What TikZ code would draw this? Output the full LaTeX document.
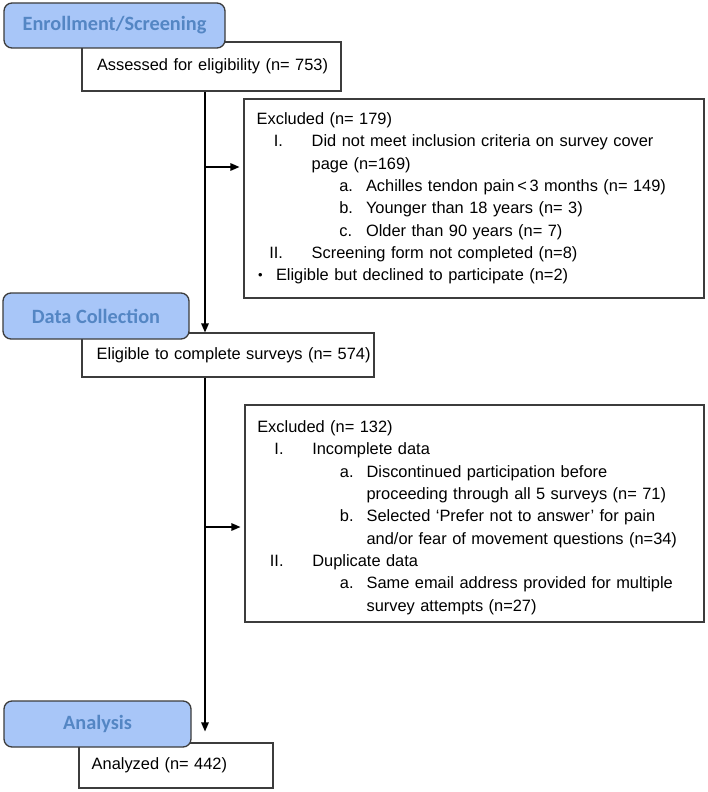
\documentclass[tikz,border=0pt]{standalone}
\usepackage{fontspec}
\setmainfont{Liberation Sans}
\newfontfamily\pillfont{Carlito}
\usetikzlibrary{arrows.meta}

\definecolor{pillfill}{RGB}{168,198,248}
\definecolor{pilltext}{RGB}{84,134,196}
\definecolor{boxline}{RGB}{60,60,60}

\newcommand{\rnum}[1]{\makebox[26.3pt][r]{#1}\hspace{28.7pt}}
\newcommand{\lett}[1]{\hspace*{82.6pt}\makebox[26.7pt][l]{#1}}
\newcommand{\indI}{\hspace*{55pt}}
\newcommand{\indA}{\hspace*{109.3pt}}

\tikzset{
  pill/.style={draw=boxline, line width=1.3pt, fill=pillfill, rounded corners=8pt,
    text=pilltext, font=\pillfont\bfseries\fontsize{20.3}{24}\selectfont, inner sep=0pt},
  flowbox/.style={draw=boxline, line width=1.1pt, fill=white, align=left,
    font=\fontsize{16.4}{22.3}\selectfont, inner ysep=0pt},
  flow/.style={line width=1.3pt, -{Triangle[length=9pt,width=7.5pt]}}
}

\begin{document}
\begin{tikzpicture}[x=1pt,y=-1pt]
\useasboundingbox (0,0) rectangle (708,792);

\node[flowbox, text width=229pt, inner xsep=15pt, minimum height=49pt] (assess) at (211.5,66.5) {\mbox{Assessed for eligibility (n= 753)}};
\node[flowbox, text width=434.6pt, inner xsep=12.7pt, minimum height=199pt] (excl1) at (474,198.5) {Excluded (n= 179)\\
\rnum{I.}Did not meet inclusion criteria on survey cover\\
\indI page (n=169)\\
\lett{a.}Achilles tendon pain\,<\,3 months (n= 149)\\
\lett{b.}Younger than 18 years (n= 3)\\
\lett{c.}Older than 90 years (n= 7)\\
\rnum{II.}Screening form not completed (n=8)\\
\hspace*{1.5pt}\makebox[17.8pt][l]{\raisebox{1pt}{\fontsize{13}{13}\selectfont •}}Eligible but declined to participate (n=2)};
\node[flowbox, text width=262.6pt, inner xsep=14.7pt, minimum height=44pt] (elig) at (228,355) {\mbox{Eligible to complete surveys (n= 574)}};
\node[flowbox, text width=434.4pt, inner xsep=12.3pt, minimum height=217pt] (excl2) at (474.5,513.5) {\rule{0pt}{20pt}Excluded (n= 132)\\
\rnum{I.}Incomplete data\\
\lett{a.}Discontinued participation before\\
\indA proceeding through all 5 surveys (n= 71)\\
\lett{b.}Selected ‘Prefer not to answer’ for pain\\
\indA and/or fear of movement questions (n=34)\\
\rnum{II.}Duplicate data\\
\lett{a.}Same email address provided for multiple\\
\indA survey attempts (n=27)};
\node[flowbox, text width=168.6pt, inner xsep=12.7pt, minimum height=45pt] (analyzed) at (176,765.5) {\mbox{Analyzed (n= 442)}};

% stage labels
\node[pill, minimum width=221pt, minimum height=45pt] (enroll) at (114.5,25.5) {Enrollment/Screening};
\node[pill, minimum width=186pt, minimum height=46pt] (collect) at (96,316) {Data Collection};
\node[pill, minimum width=187pt, minimum height=46pt] (analysis) at (97.5,724) {Analysis};

% connectors
\coordinate (trunk) at (205,0);
\coordinate (fork1) at (205,167);
\coordinate (fork2) at (205,527);
\draw[flow] (assess.south -| trunk) -- (elig.north -| trunk);
\draw[flow, shorten >=4pt] (fork1) -- (fork1 -| excl1.west);
\draw[flow, shorten >=11pt] (elig.south -| trunk) -- (analyzed.north -| trunk);
\draw[flow, shorten >=4pt] (fork2) -- (fork2 -| excl2.west);
\end{tikzpicture}
\end{document}
